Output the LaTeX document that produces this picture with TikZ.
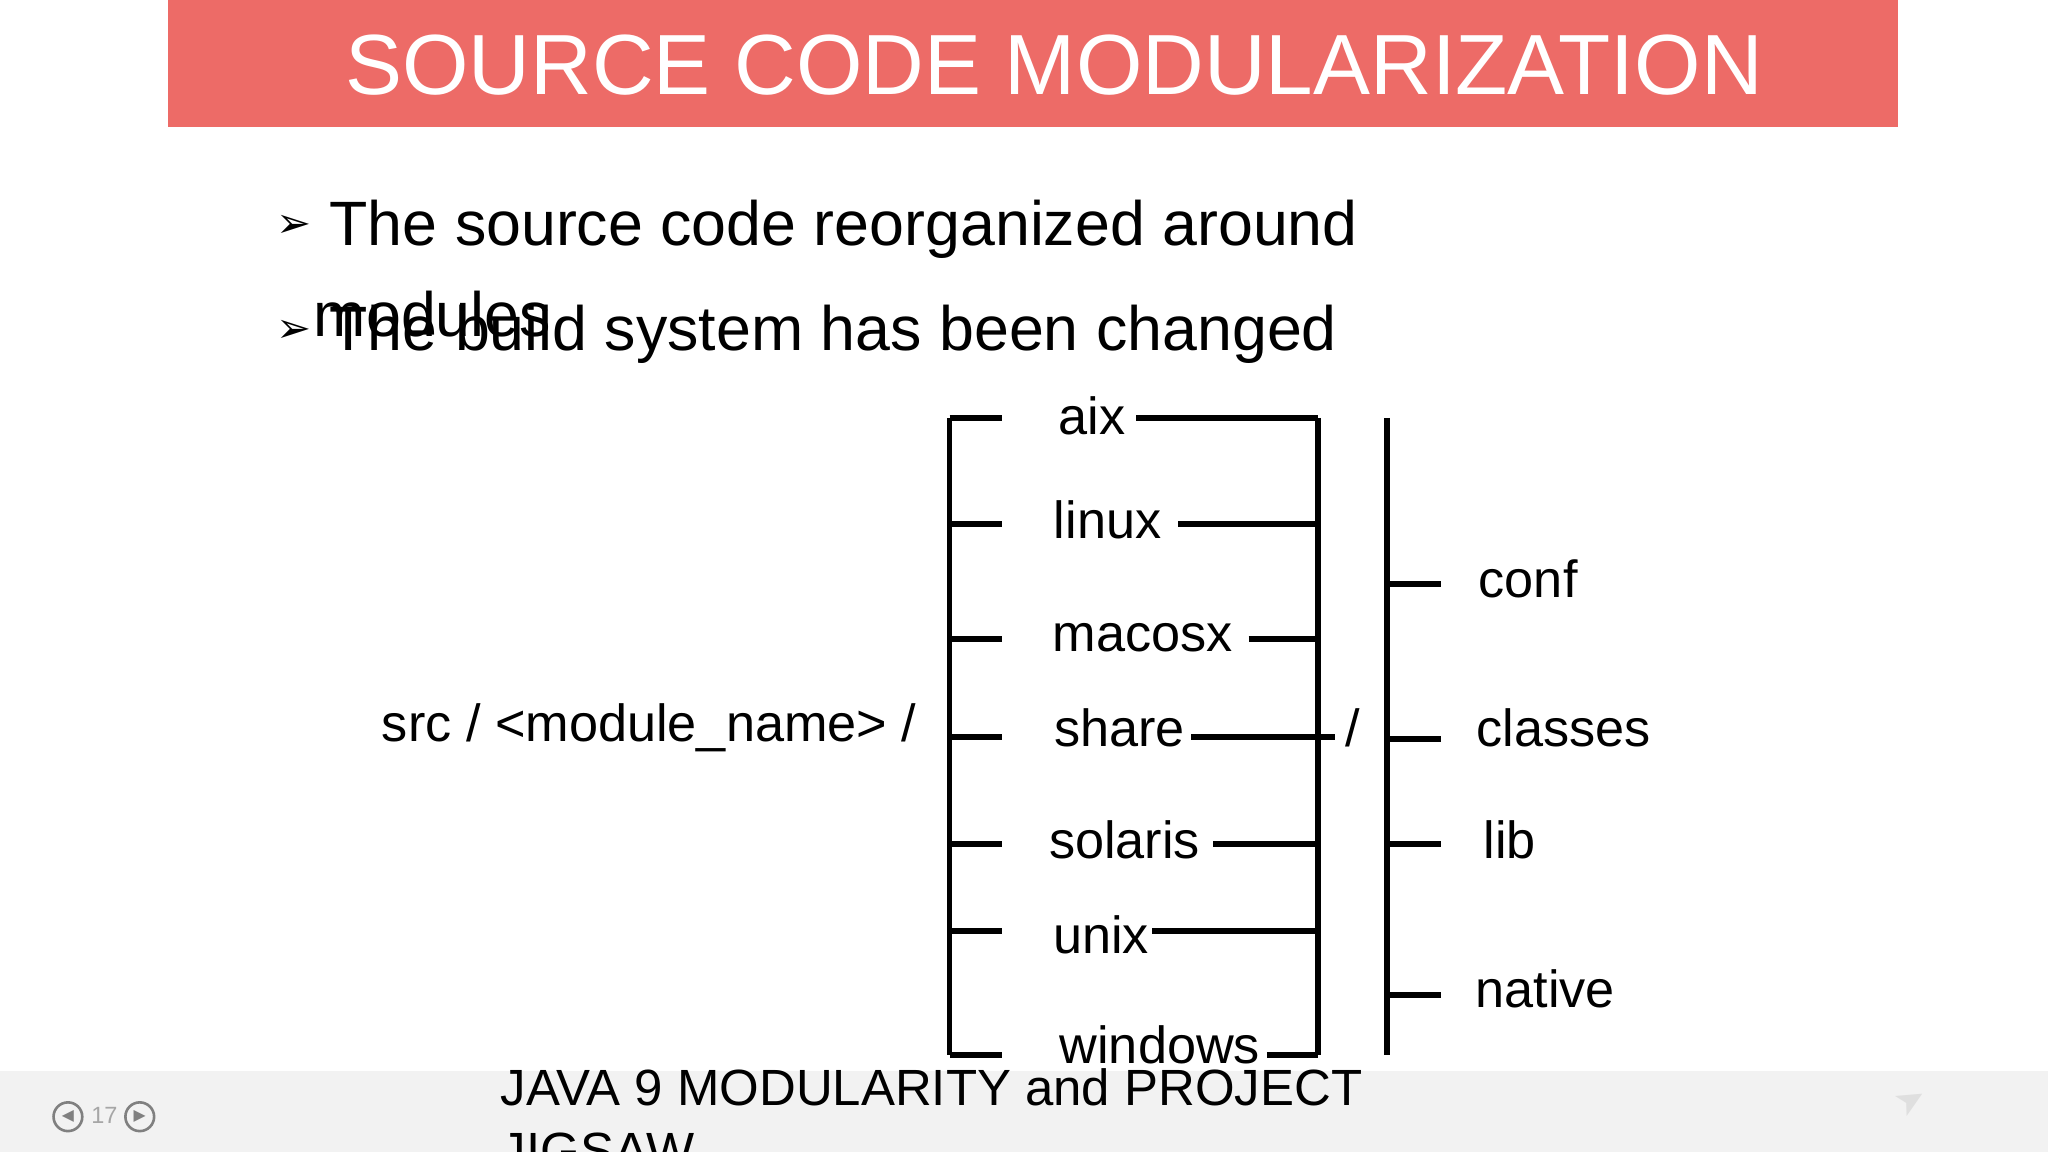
\documentclass[tikz,border=0pt]{standalone}
\usepackage{fontspec}
\setmainfont{Liberation Sans}
\newfontfamily\dv{DejaVu Sans}
\begin{document}
\begin{tikzpicture}[x=0.5pt,y=-0.5pt,
  ln/.style={line width=2.2pt},
  lbl/.style={font=\fontsize{20}{24}\selectfont, inner sep=0pt},
  btxt/.style={font=\fontsize{24}{30}\selectfont, anchor=base west, inner sep=0pt}]
\useasboundingbox (0,0) rectangle (1568,882);
\clip (0,0) rectangle (1568,882);
\fill[white] (0,0) rectangle (1568,882);
\fill[fill={rgb,255:red,237;green,107;blue,103}] (129,0) rectangle (1453,97);
\node[text=white,font=\fontsize{32.7}{38}\selectfont] (title) at (807,50) {SOURCE CODE MODULARIZATION};
% bullets
\node[font=\dv\fontsize{16}{18}\selectfont, inner sep=0pt] (b1) at (225,173) {➢};
\node[btxt] (t1) at (252,188) {The source code reorganized around};
\node[btxt] (t1b) at (240,258) {modules};
\node[font=\dv\fontsize{16}{18}\selectfont, inner sep=0pt] (b2) at (225,254) {➢};
\node[btxt] (t2) at (252,268) {The build system has been changed};
% diagram
\node[lbl] (src) at (497,557) {src / <module\_name> /};
\coordinate (L1) at (727,320); \coordinate (L2) at (727,808);
\draw[ln] (L1) -- (L2);
\coordinate (R1) at (1009,320); \coordinate (R2) at (1009,808);
\draw[ln] (R1) -- (R2);
\foreach \n/\x/\y in {aix/836/318, linux/848/398, macosx/875/488, share/857/557, solaris/861/643, unix/843/716, windows/888/800}{
  \node[lbl] (\n) at (\x,\y) {\n};
}
\foreach \n/\y/\xs in {aix/320/870, linux/401/902, macosx/489/956, share/564/912, solaris/646/929, unix/713/882, windows/808/970}{
  \coordinate (\n-l) at (727,\y); \coordinate (\n-t) at (767,\y);
  \draw[ln] (\n-l) -- (\n-t);
  \coordinate (\n-a) at (\xs,\y); \coordinate (\n-b) at (1009,\y);
  \draw[ln] (\n-a) -- (\n-b);
}
\coordinate (sh-end) at (1022,564);
\draw[ln] (share-b) -- (sh-end);
\node[lbl] (slash) at (1036,557) {/};
\coordinate (V1) at (1062,320); \coordinate (V2) at (1062,808);
\draw[ln] (V1) -- (V2);
\foreach \n/\x/\y/\ty in {conf/1170/443/447, classes/1197/557/566, lib/1156/643/646, native/1183/757/762}{
  \node[lbl] (\n) at (\x,\y) {\n};
  \coordinate (\n-l) at (1062,\ty); \coordinate (\n-r) at (1103,\ty);
  \draw[ln] (\n-l) -- (\n-r);
}
% footer
\fill[fill={rgb,255:red,242;green,242;blue,242}] (0,820) rectangle (1568,882);
\node[font=\fontsize{19.5}{24}\selectfont, anchor=north west, align=left, inner sep=0pt] (foot) at (383,818) {JAVA 9 MODULARITY and PROJECT\\JIGSAW};
\node[draw=gray, circle, line width=1pt, minimum size=11pt, inner sep=0pt, font=\dv\fontsize{6}{6}\selectfont, text=gray] (prev) at (52,855) {◀};
\node[font=\fontsize{9}{10}\selectfont, text=gray!70, inner sep=0pt] (pg) at (80,854) {17};
\node[draw=gray, circle, line width=1pt, minimum size=11pt, inner sep=0pt, font=\dv\fontsize{6}{6}\selectfont, text=gray] (next) at (107,855) {▶};
\node[font=\dv\fontsize{14}{14}\selectfont, text=gray!25, rotate=30] (send) at (1463,843) {➤};
\end{tikzpicture}
\end{document}
